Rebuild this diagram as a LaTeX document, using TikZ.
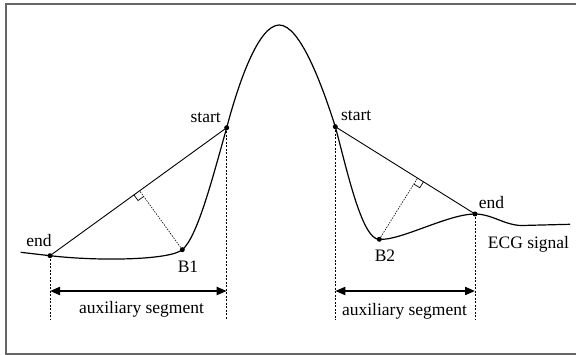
\documentclass[tikz,border=0pt]{standalone}
\usepackage{fontspec}
\setmainfont{Liberation Serif}
\usetikzlibrary{calc,arrows.meta}
\begin{document}
\begin{tikzpicture}[x=1pt,y=-1pt,
  sig/.style={line width=1.2pt},
  tang/.style={line width=0.9pt},
  perp/.style={line width=0.6pt, dash pattern=on 1.5pt off 1.2pt},
  guide/.style={line width=0.6pt, dash pattern=on 2pt off 1.5pt},
  dim/.style={line width=2pt, {Triangle[length=10pt,width=8pt]}-{Triangle[length=10pt,width=8pt]}},
  rightmark/.style={line width=0.7pt},
  lbl/.style={font=\fontsize{17.5}{20}\selectfont, inner sep=0pt},
  dot/.style={circle, fill, inner sep=0pt, minimum size=5pt},
  frameline/.style={draw=black!60, line width=1.3pt}
]
\useasboundingbox (0,0) rectangle (576,355);
\draw[frameline] (580,4) -- (6,4) -- (6,354) -- (580,354);

% curve points
\coordinate (L0) at (20.7,252.3);
\coordinate (E1) at (50,255.7);
\coordinate (B1) at (182.3,249.7);
\coordinate (S1) at (226.7,127.7);
\coordinate (P)  at (279.3,25);
\coordinate (S2) at (335.3,126.7);
\coordinate (B2) at (379.3,239.3);
\coordinate (E2) at (475,214);
\coordinate (R1) at (522,225.5);
\coordinate (R0) at (570,224.3);
\coordinate (base) at (0,320);
\coordinate (dimy) at (0,291);

% ECG signal
\draw[sig] (L0) -- (E1)
  .. controls (100,261.5) and (170,260) .. (B1)
  .. controls (197.3,237.1) and (212,180) .. (S1)
  .. controls (238,85) and (258,25) .. (P)
  .. controls (300,25) and (322,85) .. (S2)
  .. controls (347,170) and (362,240) .. (B2)
  .. controls (400,241) and (448,214) .. (E2)
  .. controls (492,214) and (505,225.5) .. (R1) -- (R0);

% chords
\draw[tang] (E1) -- (S1);
\draw[tang] (S2) -- (E2);

% perpendiculars
\coordinate (F1) at ($(E1)!(B1)!(S1)$);
\coordinate (F2) at ($(S2)!(B2)!(E2)$);
\draw[perp] (B1) -- (F1);
\draw[perp] (B2) -- (F2);
\coordinate (F1a) at ($(F1)!7pt!(E1)$);
\coordinate (F1b) at ($(F1)!7pt!(B1)$);
\coordinate (F1c) at ($(F1a)+(F1b)-(F1)$);
\draw[rightmark] (F1a) -- (F1c) -- (F1b);
\coordinate (F2a) at ($(F2)!7pt!(E2)$);
\coordinate (F2b) at ($(F2)!7pt!(B2)$);
\coordinate (F2c) at ($(F2a)+(F2b)-(F2)$);
\draw[rightmark] (F2a) -- (F2c) -- (F2b);

% vertical guides
\draw[guide] (E1) -- (E1 |- base);
\draw[guide] (S1) -- (S1 |- base);
\draw[guide] (S2) -- (S2 |- base);
\draw[guide] (E2) -- (E2 |- base);

% dimension arrows
\draw[dim] (E1 |- dimy) -- (S1 |- dimy);
\draw[dim] (S2 |- dimy) -- (E2 |- dimy);

% dots
\node[dot] (dE1) at (E1) {};
\node[dot] (dB1) at (B1) {};
\node[dot] (dS1) at (S1) {};
\node[dot] (dS2) at (S2) {};
\node[dot] (dB2) at (B2) {};
\node[dot] (dE2) at (E2) {};

% labels
\node[lbl] (tEnd1) at (39,241) {end};
\node[lbl] (tStart1) at (205.7,117.5) {start};
\node[lbl] (tStart2) at (356.2,116) {start};
\node[lbl] (tB1) at (188,266.5) {B1};
\node[lbl] (tB2) at (385,255.5) {B2};
\node[lbl] (tEnd2) at (491.6,202.5) {end};
\node[lbl] (tECG) at (528.5,244) {ECG signal};
\node[lbl] (tAux1) at (141.5,309.3) {auxiliary segment};
\node[lbl] (tAux2) at (404.5,311.8) {auxiliary segment};
\end{tikzpicture}
\end{document}
